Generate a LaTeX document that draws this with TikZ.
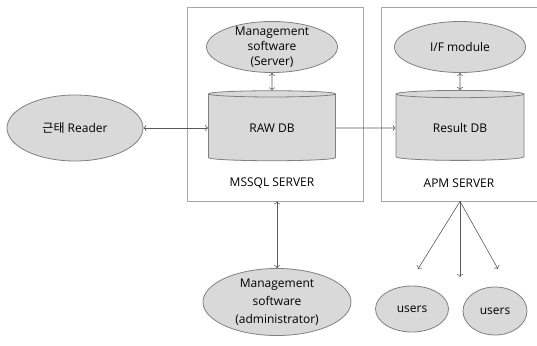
\documentclass[tikz,border=0pt]{standalone}
\usepackage{fontspec}
\setmainfont{Open Sans}
\newfontfamily\krfont{Noto Sans CJK KR}
\definecolor{frameGray}{HTML}{A6A6A6}
\definecolor{shapeLine}{HTML}{808080}
\definecolor{shapeFill}{HTML}{D9D9D9}
\definecolor{linkGray}{HTML}{595959}
\usetikzlibrary{shapes.geometric, arrows.meta}

\begin{document}
\begin{tikzpicture}[
    x=1pt, y=-1pt,
    every node/.style={font=\fontsize{12}{15}\selectfont},
    oval/.style={ellipse, draw=shapeLine, fill=shapeFill, line width=0.8pt,
                 align=center, inner xsep=0pt},
    db/.style={cylinder, shape border rotate=90, aspect=0.12,
               draw=shapeLine, fill=shapeFill, line width=0.8pt,
               cylinder uses custom fill, cylinder body fill=shapeFill,
               cylinder end fill=shapeFill!60!white},
    serverbox/.style={rectangle, draw=frameGray, line width=0.8pt, inner sep=0pt},
    link/.style={draw=linkGray, line width=0.6pt,
                 arrows={Straight Barb[length=3pt, width=5pt]-Straight Barb[length=3pt, width=5pt]}}
  ]
    \useasboundingbox (0,0) rectangle (537,345);

    % server frames
    \node[serverbox, minimum width=176, minimum height=194] (mssql) at (275,104) {};
    \node[serverbox, minimum width=170, minimum height=194] (apm) at (466,104) {};
    \node (mssqllabel) at (272,183) {MSSQL SERVER};
    \node (apmlabel) at (459,183) {APM SERVER};

    % ovals
    \node[oval, minimum width=136, minimum height=66] (reader) at (75,128)
      {{\krfont 근태} Reader};
    \node[oval, inner ysep=-6pt, minimum width=131, minimum height=51] (mgmtsrv) at (272,47)
      {Management\\software\\(Server)};
    \node[oval, minimum width=131, minimum height=51] (ifmod) at (460,47) {I/F module};
    \node[oval, font=\fontsize{12}{18}\selectfont, inner ysep=-9pt,
          minimum width=148, minimum height=67] (admin) at (277,302)
      {Management\\software\\(administrator)};
    \node[oval, minimum width=73, minimum height=46] (usersa) at (412,309) {users};
    \node[oval, minimum width=64, minimum height=48] (usersb) at (495,311) {users};

    % databases
    \node[db, minimum width=127, minimum height=70] (rawdb) at (272,128) {RAW DB};
    \node[db, minimum width=128, minimum height=70] (resultdb) at (460,128) {Result DB};

    % connectors
    \draw[link, <->] (reader) -- (rawdb);
    \draw[link, <->] (mgmtsrv) -- (rawdb);
    \draw[link, <->] (ifmod) -- (resultdb);
    \draw[link, ->] (rawdb) -- (resultdb);
    \draw[link, <->] (admin.north |- mssql.south) -- (admin.north);

    \coordinate (apmout) at (resultdb.center |- apm.south);
    \coordinate (fanA) at (418,269);
    \coordinate (fanB) at (460,277);
    \coordinate (fanC) at (498,269);
    \foreach \tip in {fanA, fanB, fanC}
      \draw[link, ->] (apmout) -- (\tip);
  \end{tikzpicture}
\end{document}
